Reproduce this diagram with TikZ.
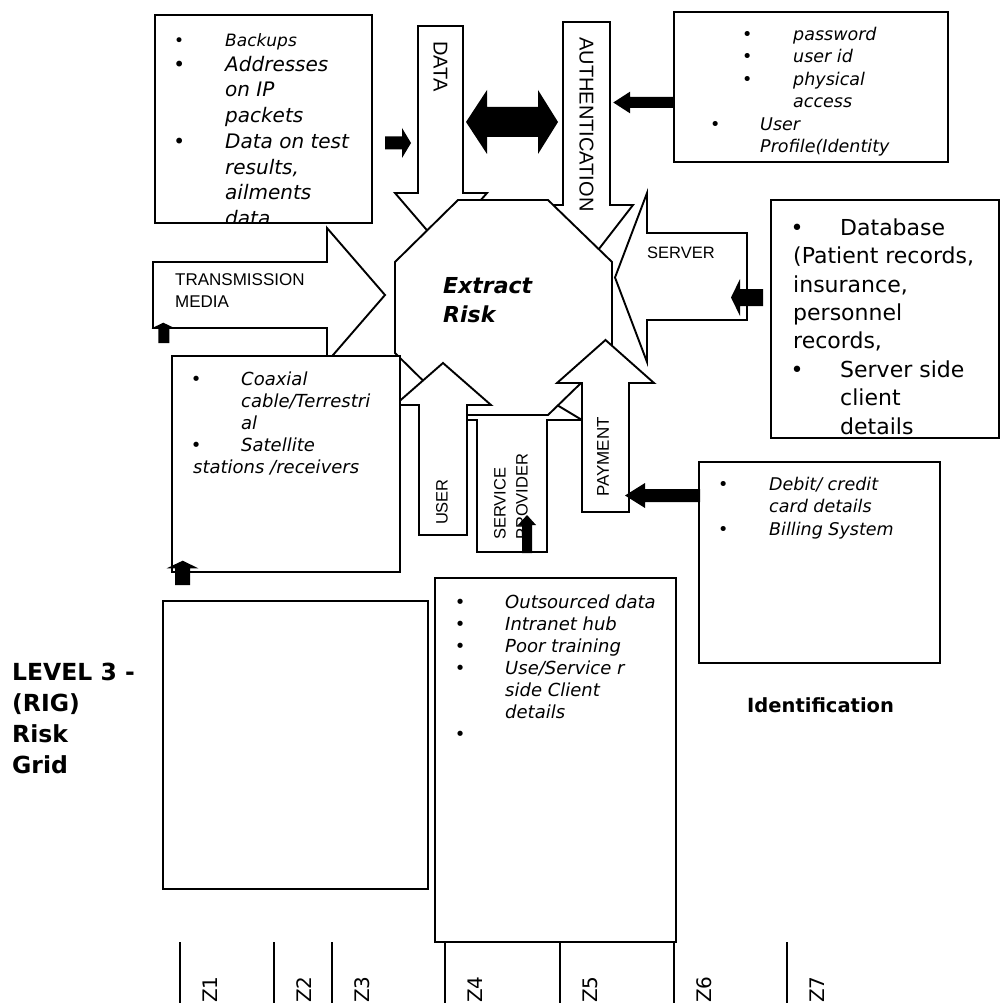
\documentclass[tikz,border=0pt]{standalone}
\usepackage{fontspec}
\setmainfont{DejaVu Sans}[
  BoldFont={DejaVu Sans Bold},
  ItalicFont={DejaVu Sans Oblique},
  BoldItalicFont={DejaVu Sans Bold Oblique}]
\newfontfamily\labelfont{Liberation Sans}
% bullet centred #1pt to the left of the current position
\newcommand\bul[1]{\llap{\makebox[#1pt][l]{\makebox[0pt]{\textbullet}}}}
\newcommand\fs[2]{\fontsize{#1}{#2}\selectfont}
\begin{document}
\begin{tikzpicture}[x=1pt,y=-1pt,line join=miter,
  outline/.style={draw=black,line width=1.9pt,fill=white},
  frame/.style={draw=black,line width=1.9pt,fill=white,rectangle,
    anchor=north west,inner sep=0pt,outer sep=0pt},
  solidarrow/.style={fill=black,draw=none},
  body/.style={anchor=north west,inner sep=0pt,align=left},
  lab/.style={inner sep=0pt,text=black},
  zline/.style={draw=black,line width=2pt},
  zlab/.style={rotate=90,anchor=west,inner sep=0pt,font=\fs{20}{24}}]

\useasboundingbox (0,0) rectangle (1002,1003);
\fill[white] (0,0) rectangle (1002,1003);

% ---------- white block arrows lying under the octagon ----------
\draw[outline] (418,26) -- (463,26) -- (463,193) -- (487,193) -- (440.5,246)
  -- (395,193) -- (418,193) -- cycle;                                   % DATA
\draw[outline] (563,22) -- (610,22) -- (610,205) -- (633,205) -- (586.5,265)
  -- (540,205) -- (563,205) -- cycle;                                   % AUTHENTICATION
\draw[outline] (477,552) -- (477,420) -- (442,420) -- (512,378) -- (582,420)
  -- (547,420) -- (547,552) -- cycle;                                   % SERVICE PROVIDER
\draw[outline] (747,233) -- (747,320) -- (647,320) -- (647,362) -- (615,277.5)
  -- (647,193) -- (647,233) -- cycle;                                   % SERVER
\draw[outline] (153,262) -- (327,262) -- (327,228) -- (385,295) -- (327,362)
  -- (327,328) -- (153,328) -- cycle;                                   % TRANSMISSION MEDIA

% ---------- central octagon ----------
\draw[outline] (458,200) -- (548,200) -- (612,262) -- (612,353) -- (548,415)
  -- (458,415) -- (395,353) -- (395,262) -- cycle;

% ---------- white block arrows lying over the octagon ----------
\draw[outline] (419,535) -- (419,405) -- (395,405) -- (443,363) -- (491,405)
  -- (467,405) -- (467,535) -- cycle;                                   % USER
\draw[outline] (582,512) -- (582,383) -- (557,383) -- (605.5,340) -- (654,383)
  -- (629,383) -- (629,512) -- cycle;                                   % PAYMENT

% ---------- boxes ----------
\node[frame,minimum width=217pt,minimum height=208pt] (databox) at (155,15) {};
\node[frame,minimum width=274pt,minimum height=150pt] (authbox) at (674,12) {};
\node[frame,minimum width=228pt,minimum height=238pt] (serverbox) at (771,200) {};
\node[frame,minimum width=228pt,minimum height=216pt] (mediabox) at (172,356) {};
\node[frame,minimum width=241pt,minimum height=201pt] (paybox) at (699,462) {};
\node[frame,minimum width=241pt,minimum height=364pt] (userbox) at (435,578) {};
\node[frame,minimum width=265pt,minimum height=288pt] (gridbox) at (163,601) {};

% ---------- box contents ----------
\begin{scope}
  \clip (156,16) rectangle (371,222);
  \node[body,font=\fs{17}{21}\itshape] (backups) at (225,29)
    {\rule{0pt}{17pt}\bul{46}Backups};
  \node[body,font=\fs{20}{25.7}\itshape] (datalist) at (225,51)
    {\rule{0pt}{20pt}\bul{46}Addresses\\ on IP\\ packets\\
     \bul{46}Data on test\\ results,\\ ailments\\ data};
\end{scope}

\begin{scope}
  \clip (675,13) rectangle (947,161);
  \node[body,font=\fs{17.5}{22.5}\itshape] (authlist) at (793,22.5)
    {\rule{0pt}{17.5pt}\bul{46}password\\ \bul{46}user id\\ \bul{46}physical\\ access\\
     \hspace*{-33pt}\bul{45}User\\ \hspace*{-33pt}Profile(Identity};
\end{scope}

\begin{scope}
  \clip (772,201) rectangle (998,437);
  \node[body,font=\fs{22}{28.4}] (serverlist) at (793,213)
    {\rule{0pt}{22pt}\hspace*{47pt}\bul{43}Database\\ (Patient records,\\ insurance,\\
     personnel\\ records,\\ \hspace*{47pt}\bul{43}Server side\\ \hspace*{47pt}client\\
     \hspace*{47pt}details};
\end{scope}

\node[body,font=\fs{18}{22}\itshape] (medialist) at (241,367)
  {\rule{0pt}{18pt}\bul{45}Coaxial\\ cable/Terrestri\\ al\\ \bul{45}Satellite\\
   \hspace*{-48pt}stations /receivers};

\node[body,font=\fs{17.5}{22.5}\itshape] (paylist) at (769,472.5)
  {\rule{0pt}{17.5pt}\bul{46}Debit/ credit\\ card details\\ \bul{46}Billing System};

\node[body,font=\fs{18}{22}\itshape] (userlist) at (505,590)
  {\rule{0pt}{18pt}\bul{45}Outsourced data\\ \bul{45}Intranet hub\\ \bul{45}Poor training\\
   \bul{45}Use/Service r\\ side Client\\ details\\ \bul{45}\mbox{}};

% ---------- centre text ----------
\node[body,font=\fs{22}{29}\bfseries\itshape] (extract) at (443,271)
  {\rule{0pt}{22pt}Extract\\ Risk};

% ---------- arrow labels ----------
\node[lab,rotate=-90,font=\labelfont\fs{20}{24}] (datalbl) at (440.5,66.5) {DATA};
\node[lab,rotate=-90,font=\labelfont\fs{20}{24}] (authlbl) at (586.5,124.5) {AUTHENTICATION};
\node[lab,anchor=base west,font=\labelfont\fs{16.5}{20}] (serverlbl) at (647,258) {SERVER};
\node[body,font=\labelfont\fs{17}{22}] (medialbl) at (175,268)
  {\rule{0pt}{17pt}TRANSMISSION\\ MEDIA};
\node[lab,rotate=90,font=\labelfont\fs{16.5}{20}] (userlbl) at (442,502) {USER};
\node[lab,rotate=90,anchor=west,align=left,font=\labelfont\fs{16.5}{22}] (splbl)
  at (511,540) {SERVICE\\ PROVIDER};
\node[lab,rotate=90,font=\labelfont\fs{17}{20}] (paylbl) at (603,457) {PAYMENT};

% ---------- solid black arrows ----------
\fill[solidarrow] (385,136.5) -- (402,136.5) -- (402,128) -- (411,143) -- (402,158)
  -- (402,149.5) -- (385,149.5) -- cycle;
\fill[solidarrow] (673,97) -- (630,97) -- (630,91.7) -- (613.3,102.5) -- (630,113.3)
  -- (630,108) -- (673,108) -- cycle;
\fill[solidarrow] (466,122) -- (487,90) -- (487,107) -- (538,107) -- (538,90)
  -- (558,122) -- (538,154) -- (538,137) -- (487,137) -- (487,154) -- cycle;
\fill[solidarrow] (763,289) -- (740,289) -- (740,279) -- (731,297.5) -- (740,316)
  -- (740,306) -- (763,306) -- cycle;
\fill[solidarrow] (700,489) -- (645,489) -- (645,483) -- (625,495.5) -- (645,508)
  -- (645,502) -- (700,502) -- cycle;
\fill[solidarrow] (522,553) -- (522,525) -- (518,525) -- (527,515) -- (536,525)
  -- (532,525) -- (532,553) -- cycle;
\fill[solidarrow] (158.3,343) -- (158.3,328.3) -- (151.7,328.3) -- (163.3,322.7)
  -- (175,328.3) -- (169.3,328.3) -- (169.3,343) -- cycle;
\fill[solidarrow] (175,585) -- (175,568.3) -- (166.7,568.3) -- (182.7,560.7)
  -- (198.3,568.3) -- (190,568.3) -- (190,585) -- cycle;

% ---------- side titles ----------
\node[body,font=\fs{23.5}{31}\bfseries] (level) at (12,656.5)
  {\rule{0pt}{23.5pt}LEVEL 3 -\\ (RIG)\\ Risk\\ Grid};
\node[lab,anchor=base west,font=\fs{19.5}{23}\bfseries] (ident) at (747,712) {Identification};

% ---------- zone markers ----------
\foreach \x/\z in {180/1,274/2,332/3,445/4,560/5,674/6,787/7}{
  \draw[zline] (\x,942) -- (\x,1003);
  \node[zlab] (zone\z) at (\x+30,1003) {Z\z};
}
\end{tikzpicture}
\end{document}
